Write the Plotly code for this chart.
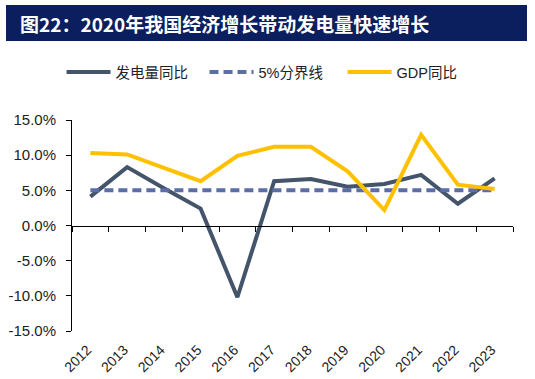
import plotly.graph_objects as go

years = ["2012", "2013", "2014", "2015", "2016", "2017", "2018", "2019", "2020", "2021", "2022", "2023"]
power_growth = [4.1, 8.3, 5.3, 2.4, -10.2, 6.3, 6.6, 5.5, 5.9, 7.2, 3.1, 6.7]
threshold = [5.0] * 12
gdp_growth = [10.3, 10.1, 8.2, 6.3, 9.9, 11.2, 11.2, 7.7, 2.2, 12.9, 5.8, 5.2]
yticks = [-15, -10, -5, 0, 5, 10, 15]
ytick_text = [f"{v:.1f}%" for v in yticks]

W, H = 535, 379
ML, MR, MT, MB = 72, 22, 120, 48
PW, PH = W - ML - MR, H - MT - MB

def px_x(p):
    return (p - ML) / PW

def px_y(p):
    return (H - MB - p) / PH

xs = list(range(len(years)))

fig = go.Figure()
fig.add_trace(go.Scatter(x=xs, y=power_growth, mode="lines", name="发电量同比",
                         legendwidth=84,
                         line=dict(color="#44546A", width=4)))
fig.add_trace(go.Scatter(x=xs, y=threshold, mode="lines", name="5%分界线",
                         legendwidth=79,
                         line=dict(color="#5B6EA6", width=4, dash="9px,5px")))
fig.add_trace(go.Scatter(x=xs, y=gdp_growth, mode="lines", name="GDP同比",
                         legendwidth=70,
                         line=dict(color="#FFC000", width=4)))

fig.update_layout(
    width=W, height=H,
    margin=dict(l=ML, r=MR, t=MT, b=MB, autoexpand=False),
    paper_bgcolor="white", plot_bgcolor="white",
    font=dict(family="Arial, 'Noto Sans CJK SC'", color="#222", size=14),
    showlegend=True,
    legend=dict(orientation="h", xref="container", yref="container",
                x=0.115, xanchor="left", y=1 - 72 / H, yanchor="middle",
                font=dict(size=14.5, family="Arial, 'Noto Sans CJK SC'", color="#222"),
                itemwidth=44, entrywidthmode="pixels",
                tracegroupgap=0, bgcolor="rgba(0,0,0,0)"),
    xaxis=dict(range=[-0.5, 11.5], tickvals=xs, ticktext=years, tickangle=-45,
               showline=False, showgrid=False, zeroline=False, ticks="",
               automargin=False, ticklabelshift=-3,
               tickfont=dict(size=14, color="#222"), ticklabelstandoff=7),
    xaxis2=dict(range=[-0.5, 11.5], overlaying="x", anchor="free", position=0.5,
                showline=True, linecolor="black", linewidth=1,
                tickvals=[i - 0.5 for i in range(len(years) + 1)],
                ticks="outside", ticklen=5, tickcolor="black", automargin=False,
                showticklabels=False, showgrid=False, zeroline=False),
    yaxis=dict(range=[-15, 15], tickvals=yticks, ticktext=ytick_text,
               showline=True, linecolor="black", linewidth=1,
               ticks="outside", ticklen=5, tickcolor="black",
               showgrid=False, zeroline=False, automargin=False,
               tickfont=dict(size=15, color="#222"), ticklabelstandoff=7),
)
# invisible trace to activate xaxis2
fig.add_trace(go.Scatter(x=[xs[0]], y=[0], xaxis="x2", mode="markers",
                         marker=dict(opacity=0), showlegend=False, hoverinfo="skip"))

fig.add_shape(type="rect", xref="paper", yref="paper",
              x0=px_x(6), x1=px_x(527), y0=px_y(41), y1=px_y(5),
              fillcolor="#0B1F5E", line=dict(width=0), layer="above")
fig.add_annotation(xref="paper", yref="paper", x=px_x(224), y=px_y(23),
                   xanchor="center", yanchor="middle", showarrow=False,
                   text="<b>图22：2020年我国经济增长带动发电量快速增长</b>",
                   font=dict(size=19, color="white", family="'Noto Sans CJK SC'"))

fig.write_html("out.html", config={"displayModeBar": False},
               post_script="document.body.style.margin='0px';")
